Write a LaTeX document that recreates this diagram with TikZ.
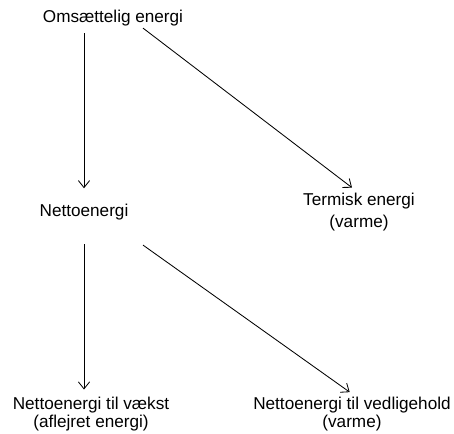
\documentclass[tikz,border=0pt]{standalone}
\usepackage{fontspec}
\setmainfont{Liberation Sans}
\usetikzlibrary{arrows.meta,calc}

\begin{document}
\begin{tikzpicture}[x=0.025cm,y=-0.025cm,
		lbl/.style={inner sep=2pt,align=center,font=\fontsize{12.2}{13}\selectfont},
		pil/.style={line width=0.6pt,-{Straight Barb[length=5pt,width=8pt]}}]
			\useasboundingbox (0,0) rectangle (454,434);

			% labels
			\node[lbl] (omsaet) at (113,18) {Omsættelig energi};
			\node[lbl] (netto) at (84,212) {Nettoenergi};
			\node[lbl] (termisk) at (359,212) {Termisk energi\\[3pt](varme)};
			\node[lbl] (vaekst) at (91,414) {Nettoenergi til vækst\\[0pt](aflejret energi)};
			\node[lbl] (vedl) at (352,414) {Nettoenergi til vedligehold\\[0pt](varme)};

			% arrows
			\draw[pil, shorten <=3pt, shorten >=9pt] (omsaet.south -| netto) -- (netto.north);
			\draw[pil] ($(omsaet.south)+(30,-1)$) -- ($(termisk.north)+(-7,-2)$);
			\draw[pil, shorten <=15pt, shorten >=3pt] (netto.south) -- (netto.south |- vaekst.north);
			\draw[pil, shorten >=2pt] ($(netto.south)+(59,22)$) -- (vedl.north);
		\end{tikzpicture}
\end{document}
